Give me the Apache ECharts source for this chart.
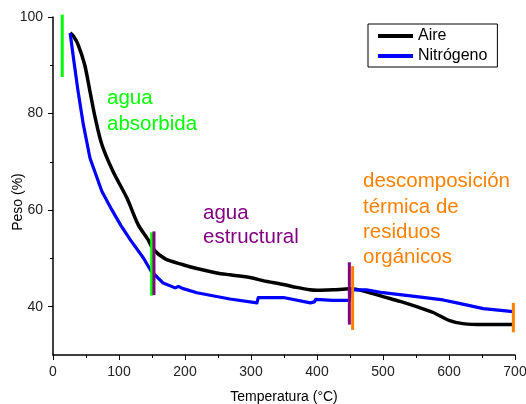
<!DOCTYPE html>
<html>
<head>
<meta charset="utf-8">
<script src="https://cdn.jsdelivr.net/npm/echarts@6/dist/echarts.min.js"></script>
<style>
  html, body { margin: 0; padding: 0; background: #fff; }
  #chart { width: 526px; height: 404px; }
</style>
</head>
<body>
<div id="chart"></div>
<script>
// temperatura (°C) y peso (%)
var aireT = [26, 31, 38, 48, 56, 64, 74, 91, 112, 129, 144, 152, 170, 197, 218, 248, 268, 300, 318, 349, 369, 389, 400, 424, 450, 475, 500, 526, 551, 576, 601, 621, 652, 697];
var aireP = [96.7, 96.0, 94.3, 90.1, 84.6, 79.1, 73.6, 68.0, 62.5, 57.0, 53.9, 51.9, 49.9, 48.7, 47.9, 47.0, 46.6, 46.0, 45.4, 44.6, 44.0, 43.5, 43.4, 43.5, 43.7, 43.1, 42.1, 41.1, 40.0, 38.8, 37.1, 36.5, 36.3, 36.3];

var nitroT = [26, 31, 38, 46, 56, 74, 89, 103, 118, 137, 149, 167, 185, 190, 196, 218, 268, 309, 311, 314, 349, 390, 396, 398, 424, 449, 452, 456, 475, 500, 551, 591, 612, 652, 697];
var nitroP = [96.7, 91.5, 84.6, 77.7, 70.8, 63.9, 60.1, 56.8, 53.7, 50.1, 47.3, 44.9, 43.9, 44.2, 43.8, 42.9, 41.6, 40.8, 41.9, 42.1, 41.9, 40.8, 41.0, 41.5, 41.3, 41.3, 43.4, 43.5, 43.5, 42.9, 42.1, 41.4, 40.8, 39.6, 39.0];

// marcas verticales: [temperatura, peso arriba, peso abajo]
var verde1 = [14, 100.5, 87.6];
var verde2 = [149.5, 55.4, 42.3];
var morado1 = [153, 55.6, 42.4];
var morado2 = [449, 49.2, 36.3];
var naranja1 = [454, 48.4, 35.2];
var naranja2 = [697.5, 40.8, 34.7];

var yLabels = [40, 60, 80, 100];
var yMinor = [50, 70, 90];

var VERDE = '#00ff00', MORADO = '#800080', NARANJA = '#ff8000';
var FUENTE = 'Liberation Sans';

function zip(t, p) {
    return t.map(function (v, i) { return [v, p[i]]; });
}
function marca(m, color) {
    return {
        type: 'line',
        data: [[m[0], m[1]], [m[0], m[2]]],
        symbol: 'none',
        clip: false,
        silent: true,
        z: 5,
        lineStyle: {color: color, width: 3}
    };
}

var chart = echarts.init(document.getElementById('chart'));
var ejeColor = '#000';
var option = {
    animation: false,
    grid: {left: 53, right: 11, top: 17, bottom: 49, containLabel: false, outerBoundsMode: 'none'},
    legend: {
        data: ['Aire', 'Nitrógeno'],
        orient: 'vertical',
        left: 368,
        top: 24,
        padding: [4, 10, 3, 10],
        itemGap: 4,
        itemWidth: 35,
        itemHeight: 4,
        icon: 'rect',
        borderColor: '#000',
        borderWidth: 1,
        borderRadius: 0,
        textStyle: {fontFamily: FUENTE, fontSize: 16, color: '#000', lineHeight: 16}
    },
    xAxis: {
        type: 'value',
        min: 0,
        max: 700,
        interval: 100,
        name: 'Temperatura (°C)',
        nameLocation: 'middle',
        nameGap: 35,
        nameMoveOverlap: false,
        nameTextStyle: {fontFamily: FUENTE, fontSize: 14, color: '#000'},
        axisLine: {lineStyle: {color: ejeColor, width: 1.5}},
        axisTick: {length: 5, lineStyle: {color: ejeColor, width: 1}},
        minorTick: {show: true, splitNumber: 2, length: 3, lineStyle: {color: ejeColor, width: 1}},
        axisLabel: {fontFamily: FUENTE, fontSize: 14, color: '#222', margin: 10},
        splitLine: {show: false}
    },
    yAxis: [{
        type: 'value',
        min: 30,
        max: 100,
        interval: 10,
        name: 'Peso (%)',
        nameLocation: 'middle',
        nameGap: 28,
        nameMoveOverlap: false,
        nameTextStyle: {fontFamily: FUENTE, fontSize: 14, color: '#000', padding: [0, 32, 0, 0]},
        axisLine: {show: true, lineStyle: {color: ejeColor, width: 1.5}},
        axisTick: {show: true, length: 5, customValues: yLabels, lineStyle: {color: ejeColor, width: 1}},
        axisLabel: {fontFamily: FUENTE, fontSize: 14, color: '#222', margin: 10, customValues: yLabels},
        splitLine: {show: false}
    }, {
        type: 'value',
        position: 'left',
        min: 30,
        max: 100,
        interval: 10,
        axisLine: {show: false},
        axisTick: {show: true, length: 3, customValues: yMinor, lineStyle: {color: ejeColor, width: 1}},
        axisLabel: {show: false},
        splitLine: {show: false}
    }],
    graphic: [
        {type: 'text', left: 107, top: 85, silent: true,
         style: {text: 'agua\nabsorbida', fill: VERDE, font: '20.5px "Liberation Sans"', lineHeight: 26}},
        {type: 'text', left: 203, top: 202, silent: true,
         style: {text: 'agua\nestructural', fill: MORADO, font: '20.5px "Liberation Sans"', lineHeight: 23.5}},
        {type: 'text', left: 363, top: 169, silent: true,
         style: {text: 'descomposición\ntérmica de\nresiduos\norgánicos', fill: NARANJA, font: '20.5px "Liberation Sans"', lineHeight: 25.3}}
    ],
    series: [
        {
            name: 'Aire',
            type: 'line',
            data: zip(aireT, aireP),
            symbol: 'none',
            smooth: 0.3,
            color: '#000',
            lineStyle: {color: '#000', width: 3.5}
        },
        {
            name: 'Nitrógeno',
            type: 'line',
            data: zip(nitroT, nitroP),
            symbol: 'none',
            smooth: false,
            color: '#0000ff',
            lineStyle: {color: '#0000ff', width: 3.2, join: 'round'}
        },
        marca(verde1, VERDE),
        marca(verde2, VERDE),
        marca(morado1, MORADO),
        marca(morado2, MORADO),
        marca(naranja1, NARANJA),
        marca(naranja2, NARANJA)
    ]
};
chart.setOption(option);
</script>
</body>
</html>
